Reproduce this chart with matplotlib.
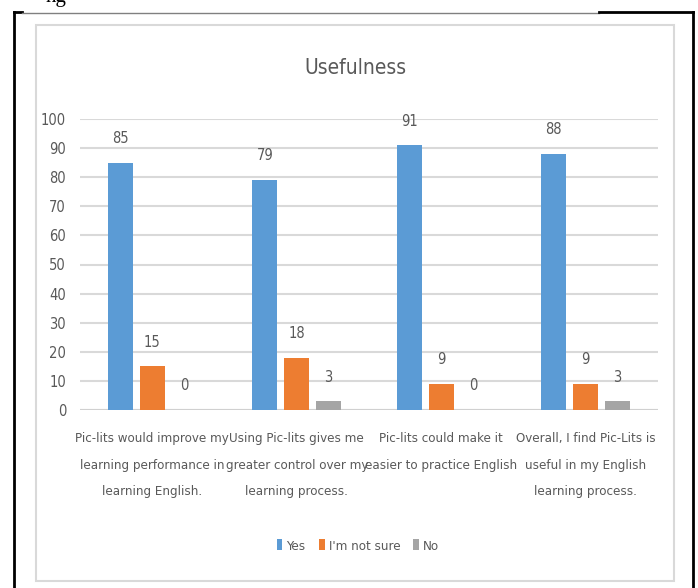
import matplotlib
matplotlib.use("Agg")
import matplotlib.pyplot as plt
from matplotlib.lines import Line2D
from matplotlib.patches import Rectangle
import numpy as np

# data
categories = [
    "Pic-lits would improve my\nlearning performance in\nlearning English.",
    "Using Pic-lits gives me\ngreater control over my\nlearning process.",
    "Pic-lits could make it\neasier to practice English",
    "Overall, I find Pic-Lits is\nuseful in my English\nlearning process.",
]
series_names = ["Yes", "I'm not sure", "No"]
yes_vals = [85, 79, 91, 88]
notsure_vals = [15, 18, 9, 9]
no_vals = [0, 3, 0, 3]
yticks = list(range(0, 101, 10))

colors = ["#5B9BD5", "#ED7D31", "#A5A5A5"]
txt_gray = "#595959"
plt.rcParams["font.family"] = ["DejaVu Sans"]
plt.rcParams["font.stretch"] = "condensed"

W, H = 698, 588
fig = plt.figure(figsize=(W / 100, H / 100), dpi=100)

def fx(px):
    return px / W

def fy(py):
    return 1 - py / H

# outer frame (black) and chart border (light gray)
fig.add_artist(Line2D([fx(14), fx(14)], [fy(12), 0], color="black", lw=2, transform=fig.transFigure))
fig.add_artist(Line2D([fx(14), fx(22)], [fy(12), fy(12)], color="black", lw=2, transform=fig.transFigure))
fig.add_artist(Line2D([fx(22), fx(599)], [fy(13), fy(13)], color="#808080", lw=1, transform=fig.transFigure))
fig.add_artist(Line2D([fx(599), fx(693)], [fy(12), fy(12)], color="black", lw=2, transform=fig.transFigure))
fig.add_artist(Line2D([fx(693), fx(693)], [fy(12), 0], color="black", lw=2, transform=fig.transFigure))
fig.add_artist(Rectangle((fx(36), fy(581)), fx(674) - fx(36), fy(25) - fy(581),
                         fill=False, edgecolor="#D9D9D9", lw=1.5, transform=fig.transFigure))
# caption cut off at the top edge of the scan
fig.text(fx(46), fy(2), "ng", fontsize=15, family="Liberation Serif", stretch="normal",
         color="black", va="baseline")

ax = fig.add_axes([fx(80), fy(410), fx(658) - fx(80), fy(119) - fy(410)])
x = np.arange(len(categories))
bw = 0.173
step = 0.221
for i, (name, vals) in enumerate(zip(series_names, [yes_vals, notsure_vals, no_vals])):
    pos = x + (i - 1) * step
    ax.bar(pos, vals, width=bw, color=colors[i], label=name, zorder=3)
    for p, v in zip(pos, vals):
        ax.annotate(str(v), (p, v), xytext=(0, 12), textcoords="offset points",
                    ha="center", va="bottom", fontsize=10.5, color=txt_gray)

ax.set_xlim(-0.5, len(categories) - 0.5)
ax.set_ylim(0, 100)
ax.set_yticks(yticks)
ax.yaxis.grid(True, color="#D9D9D9", lw=1.5, zorder=0)
ax.set_axisbelow(True)
for s in ax.spines.values():
    s.set_visible(False)
ax.axhline(0, color="#D0D0D0", lw=1.5, zorder=2)
ax.tick_params(axis="y", length=0, pad=10, labelsize=10.5, labelcolor=txt_gray)
ax.set_xticks(x)
ax.set_xticklabels(categories, fontsize=9.5, color=txt_gray, linespacing=2.35)
ax.tick_params(axis="x", length=0, pad=16)

fig.text(fx(355), fy(68), "Usefulness", fontsize=15, color=txt_gray, ha="center", va="center")

fig.legend(loc="center", bbox_to_anchor=(fx(358), fy(546)), ncol=3, frameon=False,
           fontsize=9.5, labelcolor=txt_gray, handlelength=0.45, handleheight=0.9,
           handletextpad=0.3, columnspacing=1.0)

fig.savefig("out.png", dpi=100)
